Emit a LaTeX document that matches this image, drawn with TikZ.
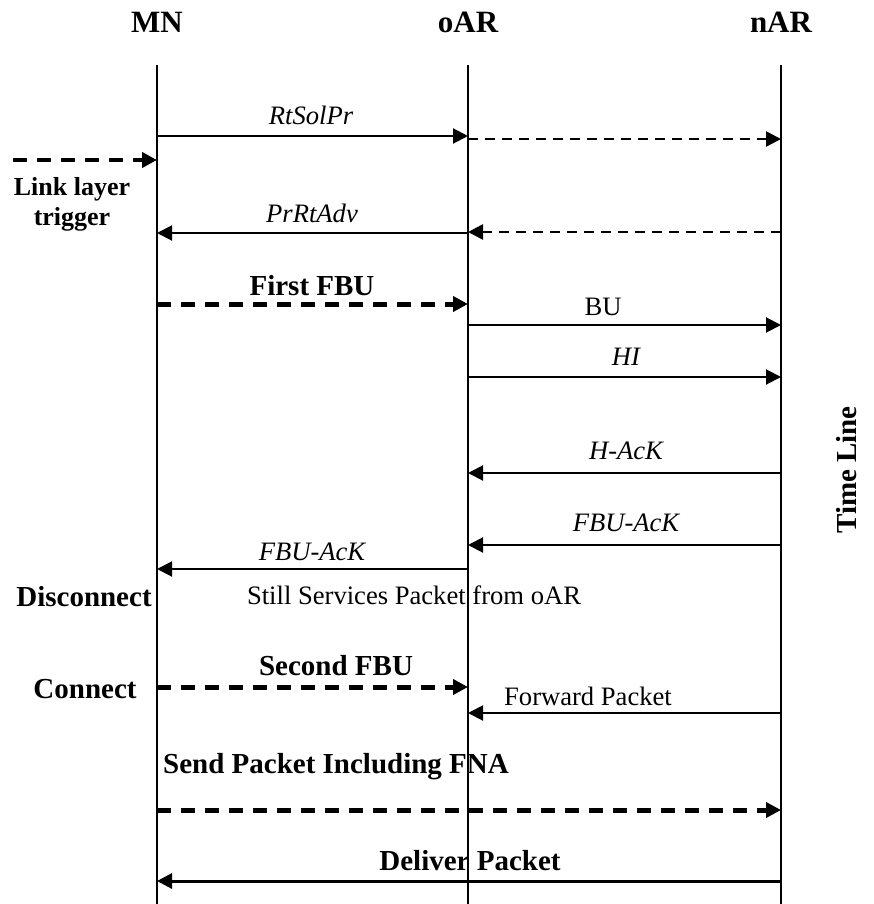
\documentclass[tikz,border=0pt]{standalone}
\usepackage{fontspec}
\setmainfont{Liberation Serif}
\usetikzlibrary{arrows.meta}
\usetikzlibrary{positioning}

\begin{document}
\begin{tikzpicture}[x=0.5pt,y=-0.5pt,
  head/.style={font=\fontsize{15.5}{18}\selectfont\bfseries,inner sep=0pt,anchor=base},
  lbl/.style={font=\fontsize{13.3}{15}\selectfont,inner sep=0pt,anchor=base},
  ilbl/.style={lbl,font=\fontsize{13.3}{15}\selectfont\itshape},
  blbl/.style={font=\fontsize{14.5}{17}\selectfont\bfseries,inner sep=0pt,anchor=base},
  msg/.style={line width=1pt,-{Triangle[length=7.5pt,width=7.5pt]}},
  msgdash/.style={msg,line width=1.3pt,dash pattern=on 5pt off 3.5pt},
  msgthick/.style={msg,line width=2.5pt,dash pattern=on 7pt off 5pt}]
  \useasboundingbox (0,0) rectangle (873,904);

  \node[head] (MN) at (157,33) {MN};
  \node[head] (oAR) at (468,33) {oAR};
  \node[head] (nAR) at (781,33) {nAR};

  \coordinate (top) at (0,65);
  \coordinate (bot) at (0,904);
  \foreach \n in {MN,oAR,nAR}
    \draw[line width=1pt] (\n |- top) -- (\n |- bot);

  \foreach \nm/\y in {yrts/136,yrtsd/139,ytrg/160,yadv/233,yadvd/232,yfbu/304,ybu/325,yhi/377,
      yhack/473,yfack/545,yfackm/569,ysfbu/687,yfwd/713,yfna/810,ydlv/881}
    \coordinate (\nm) at (0,\y);
  \coordinate (trigstart) at (13,160);

  \node[ilbl] (rtsolpr) at (311,125) {RtSolPr};
  \draw[msg] (MN |- yrts) -- (oAR |- yrts);
  \draw[msgdash] (oAR |- yrtsd) -- (nAR |- yrtsd);

  \draw[msgthick,line width=2pt] (trigstart) -- (MN |- ytrg);
  \node[blbl,font=\fontsize{13}{15}\selectfont\bfseries,align=center,anchor=center] (trigger) at (72,204) {Link layer\\trigger};

  \node[ilbl] (prrtadv) at (312,222) {PrRtAdv};
  \draw[msg] (oAR |- yadv) -- (MN |- yadv);
  \draw[msgdash] (nAR |- yadvd) -- (oAR |- yadvd);

  \node[blbl] (firstfbu) at (312,295) {First FBU};
  \draw[msgthick] (MN |- yfbu) -- (oAR |- yfbu);

  \node[lbl] (bulbl) at (603,315) {BU};
  \draw[msg] (oAR |- ybu) -- (nAR |- ybu);

  \node[ilbl] (hilbl) at (626,365) {HI};
  \draw[msg] (oAR |- yhi) -- (nAR |- yhi);

  \node[ilbl] (hack) at (626,459) {H-AcK};
  \draw[msg] (nAR |- yhack) -- (oAR |- yhack);

  \node[ilbl] (fbuack) at (626,531) {FBU-AcK};
  \draw[msg] (nAR |- yfack) -- (oAR |- yfack);

  \node[ilbl] (fbuackm) at (312,560) {FBU-AcK};
  \draw[msg] (oAR |- yfackm) -- (MN |- yfackm);

  \node[blbl] (disc) at (84,606) {Disconnect};
  \node[lbl] (still) at (414,604) {Still Services Packet from oAR};

  \node[blbl] (secfbu) at (336,675) {Second FBU};
  \node[blbl] (conn) at (85,698) {Connect};
  \draw[msgthick] (MN |- ysfbu) -- (oAR |- ysfbu);

  \node[lbl] (fwdlbl) at (588,705) {Forward Packet};
  \draw[msg] (nAR |- yfwd) -- (oAR |- yfwd);

  \node[blbl] (sendfna) at (336,773) {Send Packet Including FNA};
  \draw[msgthick] (MN |- yfna) -- (nAR |- yfna);

  \node[blbl] (deliver) at (470,870) {Deliver Packet};
  \draw[msg,line width=1.5pt] (nAR |- ydlv) -- (MN |- ydlv);

  \node[blbl,rotate=90,anchor=center] (timeline) at (847,470) {Time Line};
\end{tikzpicture}
\end{document}
